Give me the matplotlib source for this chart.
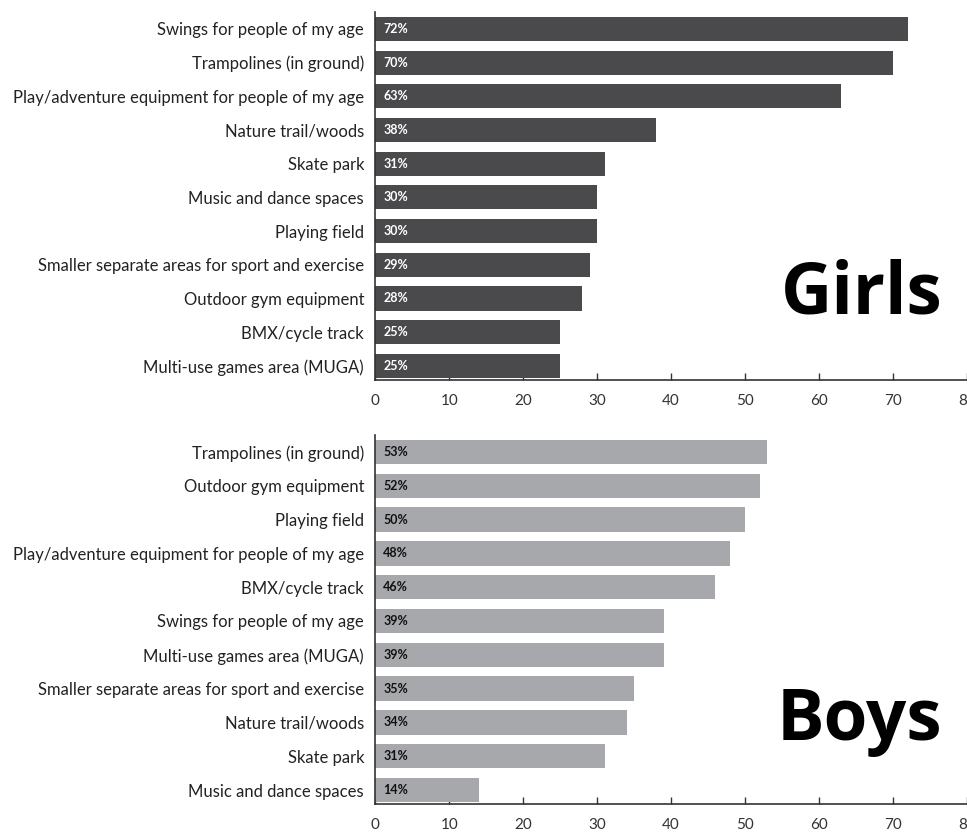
import matplotlib
matplotlib.use("Agg")
import matplotlib.pyplot as plt
import numpy as np

plt.rcParams['font.family'] = ['Lato', 'DejaVu Sans']

girls_categories = [
    "Swings for people of my age",
    "Trampolines (in ground)",
    "Play/adventure equipment for people of my age",
    "Nature trail/woods",
    "Skate park",
    "Music and dance spaces",
    "Playing field",
    "Smaller separate areas for sport and exercise",
    "Outdoor gym equipment",
    "BMX/cycle track",
    "Multi-use games area (MUGA)",
]
girls_values = [72, 70, 63, 38, 31, 30, 30, 29, 28, 25, 25]

boys_categories = [
    "Trampolines (in ground)",
    "Outdoor gym equipment",
    "Playing field",
    "Play/adventure equipment for people of my age",
    "BMX/cycle track",
    "Swings for people of my age",
    "Multi-use games area (MUGA)",
    "Smaller separate areas for sport and exercise",
    "Nature trail/woods",
    "Skate park",
    "Music and dance spaces",
]
boys_values = [53, 52, 50, 48, 46, 39, 39, 35, 34, 31, 14]

x_ticks = [0, 10, 20, 30, 40, 50, 60, 70, 80]

fig = plt.figure(figsize=(9.67, 8.32), dpi=100)

def panel(rect, cats, vals, color, txtcolor, title, ylim, title_y):
    ax = fig.add_axes(rect)
    n = len(cats)
    y = np.arange(n)[::-1]
    ax.barh(y, vals, height=0.72, color=color, zorder=2)
    for yi, v in zip(y, vals):
        ax.text(1.1, yi, f"{v}%", va='center', ha='left', fontsize=9,
                fontweight='bold', color=txtcolor, zorder=3)
    ax.set_yticks(y)
    ax.set_yticklabels(cats, fontsize=12, color='#222222')
    ax.set_xlim(0, 80)
    ax.set_ylim(*ylim)
    ax.set_xticks(x_ticks)
    ax.set_xticklabels([str(t) for t in x_ticks], fontsize=11, color='#333333')
    ax.tick_params(axis='x', direction='in', length=5, width=1, color='#333333', pad=10)
    ax.tick_params(axis='y', length=0, pad=8)
    for s in ['top', 'right']:
        ax.spines[s].set_visible(False)
    for s in ['left', 'bottom']:
        ax.spines[s].set_color('#333333')
        ax.spines[s].set_linewidth(1.2)
    ax.text(0.958, title_y, title, transform=ax.transAxes, ha='right', va='baseline',
            fontsize=51, fontweight='bold', color='black',
            family=['Open Sans', 'DejaVu Sans'])
    return ax

panel([0.388, 0.543, 0.612, 0.442], girls_categories, girls_values,
      '#4a4a4c', 'white', 'Girls', (-0.43, 10.49), 0.182)
panel([0.388, 0.0337, 0.612, 0.4435], boys_categories, boys_values,
      '#a7a8ab', '#111111', 'Boys', (-0.41, 10.5), 0.173)

fig.savefig('out.png', dpi=100)
